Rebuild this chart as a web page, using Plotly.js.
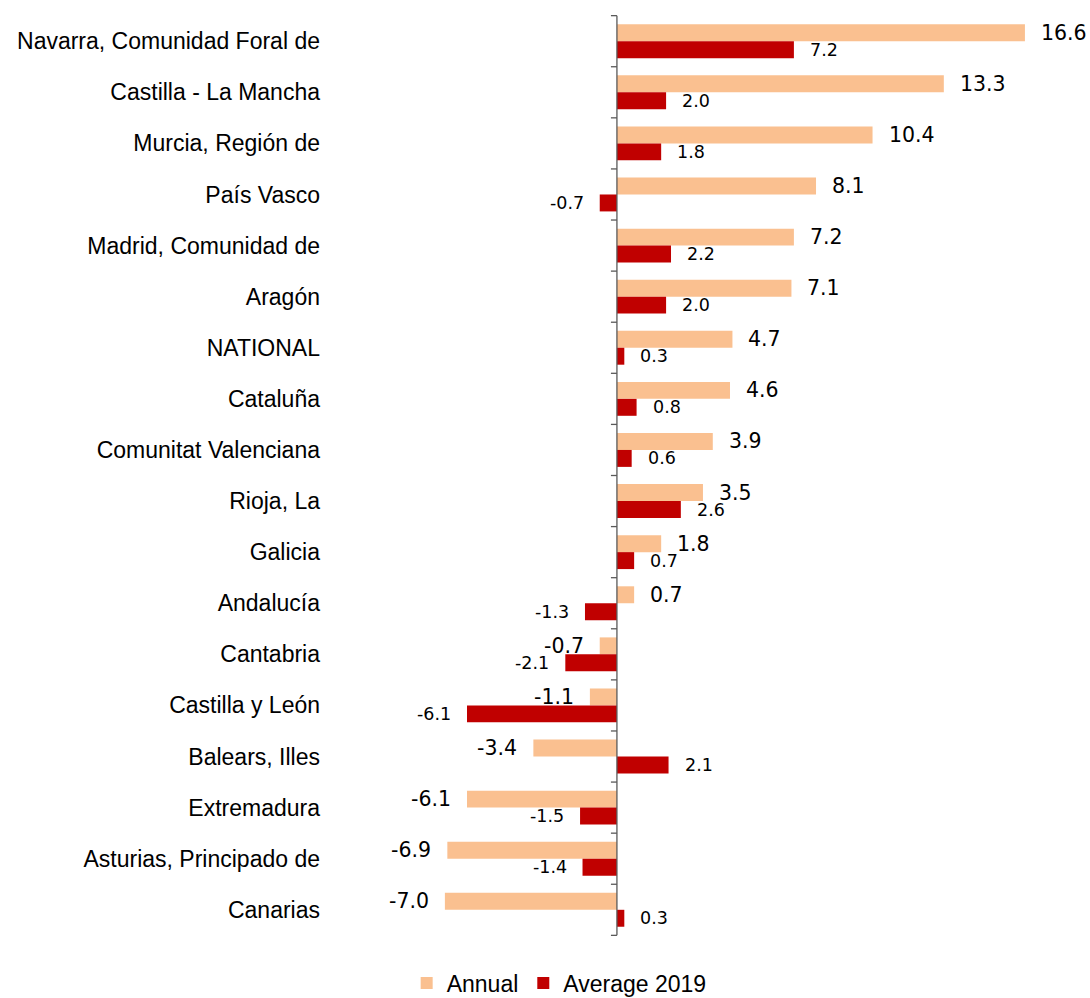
<!DOCTYPE html>
<html>
<head>
<meta charset="utf-8">
<script src="https://cdn.plot.ly/plotly-3.0.1.min.js"></script>
<style>html,body{margin:0;padding:0;background:#fff;}#chart{width:1090px;height:998px;}</style>
</head>
<body>
<div id="chart"></div>
<script>
var categories = ["Navarra, Comunidad Foral de","Castilla - La Mancha","Murcia, Región de","País Vasco","Madrid, Comunidad de","Aragón","NATIONAL","Cataluña","Comunitat Valenciana","Rioja, La","Galicia","Andalucía","Cantabria","Castilla y León","Balears, Illes","Extremadura","Asturias, Principado de","Canarias"];
var annual = [16.6,13.3,10.4,8.1,7.2,7.1,4.7,4.6,3.9,3.5,1.8,0.7,-0.7,-1.1,-3.4,-6.1,-6.9,-7.0];
var average2019 = [7.2,2.0,1.8,-0.7,2.2,2.0,0.3,0.8,0.6,2.6,0.7,-1.3,-2.1,-6.1,2.1,-1.5,-1.4,0.3];
var seriesNames = ["Annual","Average 2019"];

var FONT = "Liberation Sans, Arial, sans-serif";
var LABEL_FONT = "DejaVu Sans, Liberation Sans, sans-serif";
var n = categories.length;
var bargap = 0.337;
var barW = (1 - bargap) / 2;

var traces = [
  {type:"bar", orientation:"h", name:seriesNames[0], y:categories, x:annual,
   marker:{color:"#FAC090"}, hoverinfo:"x+y"},
  {type:"bar", orientation:"h", name:seriesNames[1], y:categories, x:average2019,
   marker:{color:"#C00000"}, hoverinfo:"x+y"}
];

var annotations = [];
function addLabels(vals, offset, size){
  vals.forEach(function(v,i){
    annotations.push({
      x:v, y:i+offset, xref:"x", yref:"y",
      text:v.toFixed(1), showarrow:false,
      xanchor: v>=0 ? "left" : "right",
      xshift: v>=0 ? 14 : -14,
      font:{family:LABEL_FONT, size:size, color:"#000"}
    });
  });
}
addLabels(annual, -barW/2, 20.5);
addLabels(average2019, barW/2, 17.5);

var shapes = [{type:"line", xref:"x", yref:"y", x0:0, x1:0, y0:-0.5, y1:n-0.5,
  line:{color:"#595959", width:1.3}, layer:"above"}];
for (var k=0;k<=n;k++){
  shapes.push({type:"line", xref:"x", yref:"y", xsizemode:"pixel", xanchor:0,
    x0:-6, x1:0, y0:k-0.5, y1:k-0.5, line:{color:"#595959", width:1.3}, layer:"above"});
}

var layout = {
  width:1090, height:998,
  margin:{l:321, r:10, t:15, b:62},
  paper_bgcolor:"#fff", plot_bgcolor:"#fff",
  barmode:"group", bargap:bargap, bargroupgap:0,
  font:{family:FONT, size:20, color:"#000"},
  xaxis:{range:[-12.04,18.84], showgrid:false, zeroline:false, showticklabels:false, showline:false, ticks:"", fixedrange:true},
  yaxis:{type:"category", autorange:"reversed", showgrid:false, zeroline:false, showline:false, ticks:"",
         tickfont:{family:FONT, size:23, color:"#000"}, fixedrange:true},
  showlegend:true,
  legend:{orientation:"h", xref:"container", yref:"container", x:0.513, xanchor:"center", y:0.015, yanchor:"middle",
          font:{family:FONT, size:23, color:"#000"}, itemwidth:30, traceorder:"normal"},
  annotations:annotations,
  shapes:shapes
};

Plotly.newPlot("chart", traces, layout, {displayModeBar:false, staticPlot:true});
</script>
</body>
</html>
